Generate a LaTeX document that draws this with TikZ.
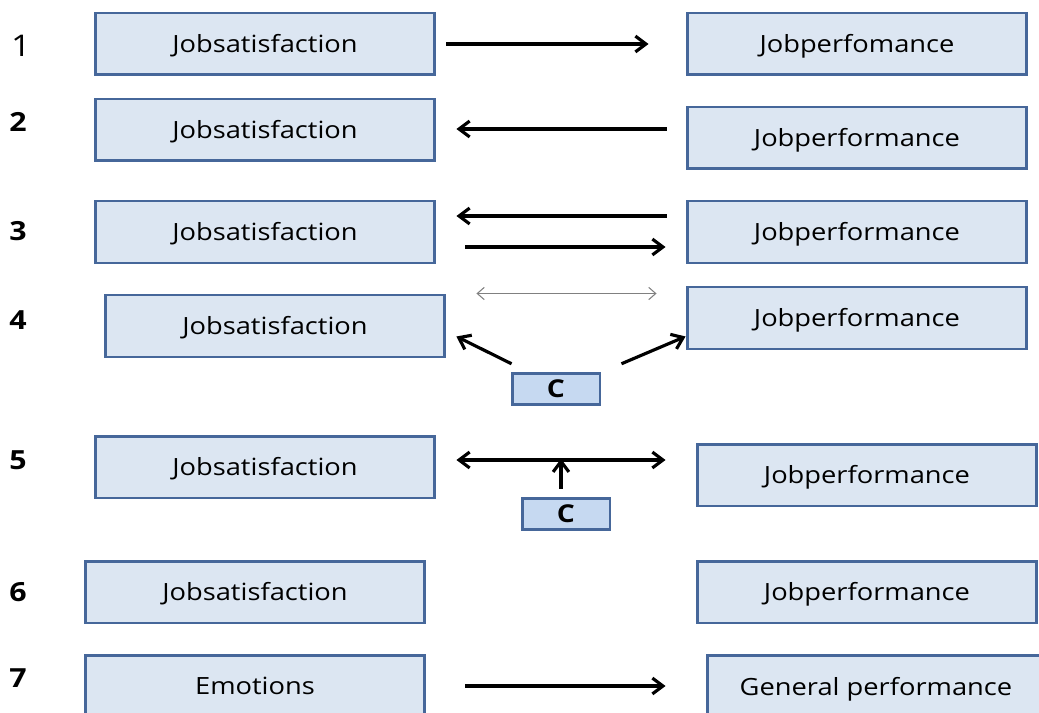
\documentclass[tikz,border=0pt]{standalone}
\usepackage{fontspec}
\setmainfont{Open Sans}[FakeStretch=1.15]
\usetikzlibrary{arrows.meta,calc}

\definecolor{boxfill}{HTML}{DCE6F2}
\definecolor{boxline}{HTML}{46679A}
\definecolor{cfill}{HTML}{C6D9F1}

\tikzset{
  factor/.style={
    draw = boxline,
    fill = boxfill,
    line width = 1.7pt,
    minimum width = 6.8cm,
    minimum height = 1.24cm,
    inner sep = 0,
    text height = 9.6pt,
    text depth = 0pt,
    font = \fontsize{13.5}{15}\selectfont,
  },
  ctrl/.style={
    factor,
    fill = cfill,
    minimum width = 1.76cm,
    minimum height = 0.63cm,
    text height = 10pt,
    font = \fontsize{14}{16}\selectfont\bfseries,
  },
  rownum/.style={
    font = \fontsize{15}{17}\selectfont\bfseries,
  },
  link/.style={
    line width = 1.8pt,
    -{Straight Barb[length=6pt,width=9pt]},
  },
}

\begin{document}
\begin{tikzpicture}[x=0.02cm, y=-0.02cm]
  \useasboundingbox (0,0) rectangle (1039,713);
  \clip (0,0) rectangle (1039,713);

  % row numbers
  \node[rownum, font=\fontsize{17}{19}\selectfont] (n1) at (21,46) {1};
  \foreach \n/\y in {2/122, 3/231, 4/320, 5/460, 6/592, 7/678}{
    \node[rownum] (n\n) at (18,\y) {\n};
  }

  % 1
  \node[factor] (sat1) at (265,44) {Jobsatisfaction};
  \node[factor] (perf1) at (857,44) {Jobperfomance};
  \draw[link] (sat1) -- (perf1) [shorten <=0.2cm, shorten >=0.74cm];

  % 2
  \node[factor] (sat2) at (265,130) {Jobsatisfaction};
  \node[factor] (perf2) at (857,138) {Jobperformance};
  \draw[link] ($(perf2.west)+(-19,-9)$) -- ($(sat2.east)+(20,-1)$);

  % 3
  \node[factor] (sat3) at (265,232) {Jobsatisfaction};
  \node[factor] (perf3) at (857,232) {Jobperformance};
  \draw[link] ($(perf3.west)+(-19,-16)$) -- ($(sat3.east)+(20,-16)$);
  \draw[link] ($(sat3.east)+(29,15)$) -- ($(perf3.west)+(-20,15)$);

  % 4
  \node[factor] (sat4) at (275,326) {Jobsatisfaction};
  \node[factor] (perf4) at (857,318) {Jobperformance};
  \node[ctrl] (c4) at (556,389) {C};
  \draw[gray, line width=0.6pt, {Straight Barb[length=4pt,width=7pt]}-{Straight Barb[length=4pt,width=7pt]}]
    ($(sat4.north east)+(30,0)$) -- ($(perf4.north west)+(-29,8)$);
  \draw[link] ($(c4.north west)+(1,-8)$) -- ($(sat4.south east)+(10,-22)$);
  \draw[link] ($(c4.north east)+(20,-8)$) -- ($(perf4.south west)+(0,-14)$);

  % 5
  \node[factor] (sat5) at (265,467) {Jobsatisfaction};
  \node[factor] (perf5) at (867,475) {Jobperformance};
  \node[ctrl] (c5) at (566,514) {C};
  \coordinate (mid5) at ($(c5.north)+(-5,-38)$);
  \draw[link, {Straight Barb[length=6pt,width=9pt]}-{Straight Barb[length=6pt,width=9pt]}]
    ($(sat5.east)+(20,-7)$) -- ($(perf5.west)+(-30,-15)$);
  \draw[link] ($(c5.north)+(-5,-8)$) -- (mid5);

  % 6
  \node[factor] (sat6) at (255,592) {Jobsatisfaction};
  \node[factor] (perf6) at (867,592) {Jobperformance};

  % 7
  \node[factor] (emo7) at (255,686) {Emotions};
  \node[factor] (perf7) at (877,686) {};
  \node[font=\fontsize{13.5}{15}\selectfont, text height=9.6pt, text depth=0pt] (gen7) at (876,687) {General performance};
  \draw[link] (emo7) -- (perf7) [shorten <=0.78cm, shorten >=0.8cm];
\end{tikzpicture}
\end{document}
